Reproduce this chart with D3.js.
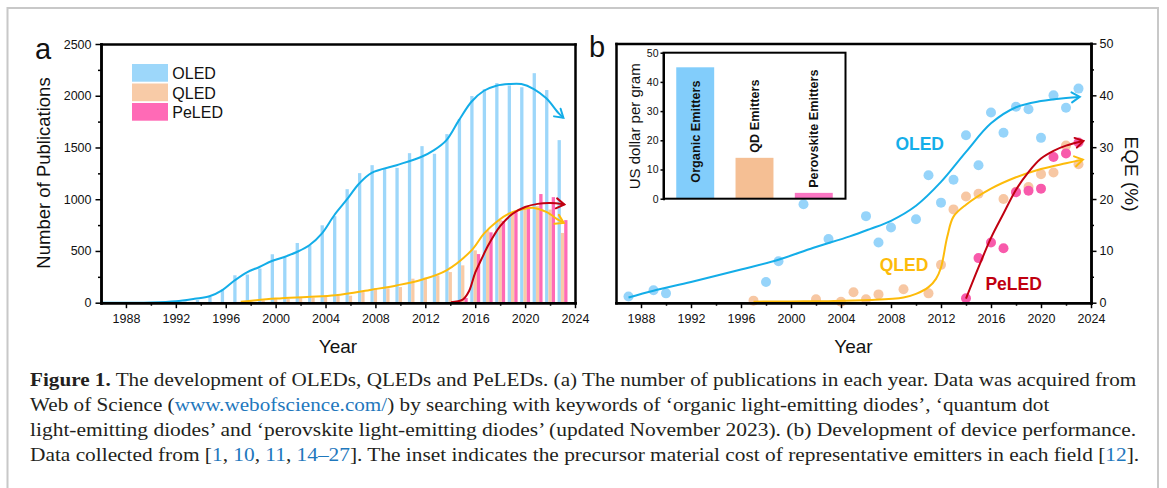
<!DOCTYPE html>
<html>
<head>
<meta charset="utf-8">
<script src="https://cdn.jsdelivr.net/npm/d3@7"></script>
<style>
  html, body { margin: 0; padding: 0; background: #fff; }
  svg { display: block; }
</style>
</head>
<body>
<svg id="fig" width="1167" height="488"></svg>
<script>
// ---------- Panel (a): publications per year ----------
const oledYears = d3.range(1986, 2024);
const oledPubs = [2, 2, 3, 3, 4, 5, 7, 12, 25, 55, 130, 265, 272, 330, 468, 440, 577, 555, 748, 836,
                  1097, 1252, 1329, 1297, 1303, 1445, 1513, 1439, 1629, 1774, 1997, 2063, 2122, 2100,
                  2082, 2218, 2055, 1571];
const qledYears = d3.range(1997, 2024);
const qledPubs = [8, 15, 22, 40, 35, 45, 50, 58, 66, 68, 103, 141, 139, 151, 232, 242, 264, 296, 361,
                  506, 700, 800, 877, 915, 935, 900, 674];
const peledYears = d3.range(2014, 2024);
const peledPubs = [8, 45, 470, 680, 790, 875, 920, 1050, 1020, 798];

// trend guides for the publication counts: [year, count]
const oledPubTrend = [[1986, 0], [1990, 3], [1992, 14], [1993.5, 38], [1994.7, 62], [1995.7, 119],
  [1996.7, 214], [1997.7, 294], [1998.7, 345], [1999.7, 403], [2000.7, 442], [2001.7, 490],
  [2002.7, 555], [2003.7, 668], [2004.7, 845], [2005.7, 995], [2006.7, 1152], [2007.7, 1255],
  [2009.7, 1329], [2011.7, 1410], [2012.7, 1474], [2013.7, 1571], [2014.7, 1764], [2015.7, 1942],
  [2016.7, 2048], [2017.7, 2097], [2018.7, 2113], [2019.7, 2113], [2020.7, 2065], [2021.7, 1975],
  [2022.7, 1829], [2023.07, 1787]];
const qledPubTrend = [[1997.2, 10], [2000, 40], [2002.5, 56], [2004.8, 71], [2007.7, 126], [2009.7, 167],
  [2011.7, 222], [2013.7, 313], [2015.7, 506], [2016.7, 668], [2017.7, 780], [2018.7, 861],
  [2019.7, 900], [2020.7, 916], [2021.7, 877], [2022.7, 797], [2023.1, 771]];
const peledPubTrend = [[2014.05, 5], [2015, 30], [2015.5, 110], [2016, 290], [2016.5, 420], [2017, 545],
  [2017.5, 650], [2018, 740], [2019, 860], [2020, 925], [2021, 955], [2022, 963], [2023.15, 950]];

const pubTicks = d3.range(0, 2501, 500);
const yearTicks = d3.range(1988, 2025, 4);

// ---------- Panel (b): EQE versus year ----------
const oledEqeYears = [1987, 1989, 1990, 1998, 1999, 2001, 2003, 2006, 2007, 2008, 2010, 2011, 2012, 2013,
                      2014, 2015, 2016, 2017, 2018, 2019, 2020, 2021, 2022, 2023];
const oledEqe = [1.2, 2.4, 1.8, 4.0, 8.0, 19.0, 12.3, 16.7, 11.6, 14.5, 16.1, 24.6, 19.3, 23.7,
                 32.3, 26.5, 36.7, 32.8, 37.8, 37.3, 31.8, 40.0, 37.6, 41.3];
const qledEqeYears = [1997, 2002, 2004, 2005, 2006, 2007, 2009, 2011, 2012, 2013, 2014, 2015, 2017, 2018,
                      2019, 2020, 2021, 2022, 2023];
const qledEqe = [0.4, 0.65, 0.2, 2.0, 0.65, 1.6, 2.6, 1.8, 7.3, 18.0, 20.5, 21.0, 20.0, 21.4,
                 22.3, 24.8, 25.1, 30.3, 26.7];
const peledEqeYears = [2014, 2015, 2016, 2017, 2018, 2019, 2020, 2021, 2022, 2023];
const peledEqe = [0.85, 8.6, 11.6, 10.5, 21.3, 21.6, 22.0, 28.1, 28.8, 30.9];

const oledEqeTrend = [[1987, 1.0], [1989, 2.3], [1992, 4.0], [1996, 6.4], [1999, 8.3], [2001.8, 10.6],
  [2004.7, 12.8], [2006.3, 14.2], [2008, 15.8], [2010, 18.7], [2012, 23.3], [2014, 29.1], [2016, 34.6],
  [2018, 37.7], [2020, 38.9], [2022, 39.5], [2023.1, 39.7]];
const qledEqeTrend = [[1997, 0.2], [2000, 0.25], [2003, 0.3], [2006.3, 0.5], [2009, 1.0], [2010, 1.7],
  [2011, 3.0], [2011.6, 4.6], [2012, 6.8], [2012.5, 12.7], [2013, 16.6], [2014, 18.9], [2016, 22.0],
  [2018, 24.2], [2020, 25.8], [2022, 26.9], [2023.35, 27.6]];
const peledEqeTrend = [[2014, 0.8], [2015, 6.8], [2016, 12.5], [2017, 17.2], [2018, 21.8], [2019, 25.2],
  [2020, 27.8], [2021, 29.3], [2022, 30.3], [2023.4, 31.2]];

const eqeTicks = d3.range(0, 51, 10);

// inset: precursor cost per gram
const emitterTypes = ['Organic Emitters', 'QD Emitters', 'Perovskite Emitters'];
const emitterCost = [45, 14, 2];
const costTicks = d3.range(0, 51, 10);

// ---------- drawing ----------
const SANS = '"Liberation Sans", Arial, Helvetica, sans-serif';
const SERIF = '"Liberation Serif", "Times New Roman", serif';
const COL = {
  oledBar: '#9dd7fa', qledBar: '#f8cba7', peledBar: '#ff6ab6',
  oledLine: '#13ade8', qledLine: '#fdbb0a', peledLine: '#c00010',
  oledDot: '#96d4fa', qledDot: '#f7c7a3', peledDot: '#f85aab',
  oledText: '#14aee9', qledText: '#fdbb0a', peledText: '#c0000f',
  inset: ['#82cdfb', '#f5bf94', '#fa76c3']
};
const FRAME_W = 2.5;

const svg = d3.select('#fig');

// figure border
svg.append('path')
  .attr('d', 'M7.5,496V8H1158V496')
  .attr('fill', 'none').attr('stroke', '#c8c8c8').attr('stroke-width', 2);

// arrowhead markers
const defs = svg.append('defs');
function arrowMarker(id, color) {
  defs.append('marker')
    .attr('id', id)
    .attr('viewBox', '-11 -7 13 14')
    .attr('refX', 0).attr('refY', 0)
    .attr('markerWidth', 13).attr('markerHeight', 14)
    .attr('markerUnits', 'userSpaceOnUse')
    .attr('orient', 'auto')
    .append('path')
    .attr('d', 'M-8,-5L0,0L-8,5')
    .attr('fill', 'none').attr('stroke', color).attr('stroke-width', 2)
    .attr('stroke-linejoin', 'miter').attr('stroke-linecap', 'round');
}
arrowMarker('arrOled', COL.oledLine);
arrowMarker('arrQled', COL.qledLine);
arrowMarker('arrPeled', COL.peledLine);

// axis styling: keep the domain line as the plot edge
function styleAxis(g, fontSize, lineW) {
  g.select('.domain').attr('stroke', '#000').attr('stroke-width', lineW).attr('stroke-linecap', 'square');
  g.selectAll('.tick line').attr('stroke', '#000').attr('stroke-width', 1.5);
  g.selectAll('.tick text').attr('fill', '#111').style('font-family', SANS).style('font-size', fontSize + 'px');
}

// top and side edges without ticks
function plainEdges(g, x, y, box, side) {
  const top = g.append('g').attr('transform', `translate(0,${box.top})`)
    .call(d3.axisTop(x).tickValues([]).tickSizeOuter(0));
  styleAxis(top, 12, FRAME_W);
  const s = g.append('g').attr('transform', `translate(${side === 'right' ? box.right : box.left},0)`)
    .call((side === 'right' ? d3.axisRight(y) : d3.axisLeft(y)).tickValues([]).tickSizeOuter(0));
  styleAxis(s, 12, FRAME_W);
}

function drawTrend(g, pts, x, y, color, markerId) {
  const line = d3.line().x(d => x(d[0])).y(d => y(d[1])).curve(d3.curveCatmullRom.alpha(0.5));
  g.append('path').datum(pts)
    .attr('d', line)
    .attr('fill', 'none').attr('stroke', color).attr('stroke-width', 2)
    .attr('marker-end', `url(#${markerId})`);
}

// ===== Panel a =====
const boxA = { left: 101, right: 575, top: 44, bottom: 302.7 };
const xa = d3.scaleLinear().domain([1986, 2024]).range([boxA.left, boxA.right]);
const ya = d3.scaleLinear().domain([0, 2500]).range([boxA.bottom, boxA.top]);
const yearPx = xa(1987) - xa(1986);
const barW = 0.265 * yearPx;
const ga = svg.append('g');

function drawBars(years, vals, offset, color) {
  ga.append('g').selectAll('rect').data(years).join('rect')
    .attr('x', (d) => xa(d) + offset * yearPx - barW / 2)
    .attr('width', barW)
    .attr('y', (d, i) => ya(vals[i]))
    .attr('height', (d, i) => ya(0) - ya(vals[i]))
    .attr('fill', color);
}
drawBars(oledYears, oledPubs, -0.265, COL.oledBar);
drawBars(qledYears, qledPubs, 0, COL.qledBar);
drawBars(peledYears, peledPubs, 0.265, COL.peledBar);

drawTrend(ga, oledPubTrend, xa, ya, COL.oledLine, 'arrOled');
drawTrend(ga, qledPubTrend, xa, ya, COL.qledLine, 'arrQled');
drawTrend(ga, peledPubTrend, xa, ya, COL.peledLine, 'arrPeled');

// axes
plainEdges(ga, xa, ya, boxA, 'right');
const axA = ga.append('g').attr('transform', `translate(0,${boxA.bottom})`)
  .call(d3.axisBottom(xa).tickValues(yearTicks).tickFormat(d3.format('d')).tickSize(5.5).tickPadding(5.5).tickSizeOuter(0));
styleAxis(axA, 12.5, FRAME_W);
const axAm = ga.append('g').attr('transform', `translate(0,${boxA.bottom})`)
  .call(d3.axisBottom(xa).tickValues(d3.range(1990, 2024, 4)).tickFormat('').tickSize(3).tickSizeOuter(0));
styleAxis(axAm, 12.5, FRAME_W);
const ayA = ga.append('g').attr('transform', `translate(${boxA.left},0)`)
  .call(d3.axisLeft(ya).tickValues(pubTicks).tickFormat(d3.format('d')).tickSize(5.5).tickPadding(4).tickSizeOuter(0));
styleAxis(ayA, 12.5, FRAME_W);
const ayAm = ga.append('g').attr('transform', `translate(${boxA.left},0)`)
  .call(d3.axisLeft(ya).tickValues(d3.range(250, 2500, 500)).tickFormat('').tickSize(3).tickSizeOuter(0));
styleAxis(ayAm, 12.5, FRAME_W);

// titles
ga.append('text').attr('transform', `translate(50,173) rotate(-90)`)
  .attr('text-anchor', 'middle').style('font-family', SANS).style('font-size', '18.5px').attr('fill', '#111')
  .text('Number of Publications');
ga.append('text').attr('x', (boxA.left + boxA.right) / 2).attr('y', 353)
  .attr('text-anchor', 'middle').style('font-family', SANS).style('font-size', '19px').attr('fill', '#111')
  .text('Year');
ga.append('text').attr('x', 35).attr('y', 58.5)
  .style('font-family', SANS).style('font-size', '29px').attr('fill', '#111').text('a');

// legend
const legend = [['OLED', COL.oledBar], ['QLED', COL.qledBar], ['PeLED', COL.peledBar]];
const lg = ga.append('g');
legend.forEach((d, i) => {
  const top = 64 + i * 19.5;
  lg.append('rect').attr('x', 132).attr('y', top).attr('width', 36).attr('height', 17.7).attr('fill', d[1]);
  lg.append('text').attr('x', 172.3).attr('y', top + 15)
    .style('font-family', SANS).style('font-size', '16px').attr('fill', '#111').text(d[0]);
});

// ===== Panel b =====
const boxB = { left: 616, right: 1091, top: 43.5, bottom: 302.7 };
const xb = d3.scaleLinear().domain([1986, 2024]).range([boxB.left, boxB.right]);
const yb = d3.scaleLinear().domain([0, 50]).range([boxB.bottom, boxB.top]);
const gb = svg.append('g');

function drawDots(years, vals, color) {
  gb.append('g').selectAll('circle').data(years).join('circle')
    .attr('cx', d => xb(d))
    .attr('cy', (d, i) => yb(vals[i]))
    .attr('r', 5)
    .attr('fill', color);
}
drawDots(oledEqeYears, oledEqe, COL.oledDot);
drawDots(qledEqeYears, qledEqe, COL.qledDot);
drawDots(peledEqeYears, peledEqe, COL.peledDot);

drawTrend(gb, oledEqeTrend, xb, yb, COL.oledLine, 'arrOled');
drawTrend(gb, qledEqeTrend, xb, yb, COL.qledLine, 'arrQled');
drawTrend(gb, peledEqeTrend, xb, yb, COL.peledLine, 'arrPeled');

// series names inside the plot
[['OLED', 2008.35, 29.5, COL.oledText], ['QLED', 2007.1, 6.1, COL.qledText], ['PeLED', 2015.55, 2.45, COL.peledText]]
  .forEach(d => {
    gb.append('text').attr('x', xb(d[1])).attr('y', yb(d[2]))
      .style('font-family', SANS).style('font-size', '17.5px').style('font-weight', 'bold')
      .attr('fill', d[3]).text(d[0]);
  });

plainEdges(gb, xb, yb, boxB, 'left');
const axB = gb.append('g').attr('transform', `translate(0,${boxB.bottom})`)
  .call(d3.axisBottom(xb).tickValues(yearTicks).tickFormat(d3.format('d')).tickSize(5.5).tickPadding(5.5).tickSizeOuter(0));
styleAxis(axB, 12.5, FRAME_W);
const axBm = gb.append('g').attr('transform', `translate(0,${boxB.bottom})`)
  .call(d3.axisBottom(xb).tickValues(d3.range(1990, 2024, 4)).tickFormat('').tickSize(3).tickSizeOuter(0));
styleAxis(axBm, 12.5, FRAME_W);
const ayB = gb.append('g').attr('transform', `translate(${boxB.right},0)`)
  .call(d3.axisRight(yb).tickValues(eqeTicks).tickSize(5.5).tickPadding(3).tickSizeOuter(0));
styleAxis(ayB, 12.5, FRAME_W);
const ayBm = gb.append('g').attr('transform', `translate(${boxB.right},0)`)
  .call(d3.axisRight(yb).tickValues(d3.range(5, 50, 10)).tickFormat('').tickSize(3).tickSizeOuter(0));
styleAxis(ayBm, 12.5, FRAME_W);

gb.append('text').attr('transform', `translate(1124.5,174) rotate(90)`)
  .attr('text-anchor', 'middle').style('font-family', SANS).style('font-size', '19px').attr('fill', '#111')
  .text('EQE (%)');
gb.append('text').attr('x', (boxB.left + boxB.right) / 2).attr('y', 353)
  .attr('text-anchor', 'middle').style('font-family', SANS).style('font-size', '19px').attr('fill', '#111')
  .text('Year');
gb.append('text').attr('x', 589).attr('y', 56.7)
  .style('font-family', SANS).style('font-size', '29px').attr('fill', '#111').text('b');

// ----- inset -----
const boxI = { left: 663.5, right: 845.5, top: 52.7, bottom: 198.7 };
const xi = d3.scaleBand().domain(emitterTypes).range([boxI.left, boxI.right]).paddingInner(0.36).paddingOuter(0.215);
const yi = d3.scaleLinear().domain([0, 50]).range([boxI.bottom, boxI.top]);
const gi = gb.append('g');
gi.append('rect')
  .attr('x', boxI.left).attr('y', boxI.top).attr('width', boxI.right - boxI.left).attr('height', boxI.bottom - boxI.top)
  .attr('fill', '#fff');
gi.selectAll('rect.cost').data(emitterTypes).join('rect').attr('class', 'cost')
  .attr('x', d => xi(d)).attr('width', xi.bandwidth())
  .attr('y', (d, i) => yi(emitterCost[i]))
  .attr('height', (d, i) => yi(0) - yi(emitterCost[i]))
  .attr('fill', (d, i) => COL.inset[i]);
gi.selectAll('text.cost').data(emitterTypes).join('text').attr('class', 'cost')
  .attr('transform', (d, i) => {
    const v = emitterCost[i];
    const yStart = v > 30 ? yi(0) - 16 : yi(v) - 5;
    return `translate(${xi(d) + xi.bandwidth() / 2 + 4.6},${yStart}) rotate(-90)`;
  })
  .style('font-family', SANS).style('font-size', '12.7px').style('font-weight', 'bold').attr('fill', '#111')
  .text(d => d);
gi.append('rect')
  .attr('x', boxI.left).attr('y', boxI.top).attr('width', boxI.right - boxI.left).attr('height', boxI.bottom - boxI.top)
  .attr('fill', 'none').attr('stroke', '#000').attr('stroke-width', 2);
const ayI = gi.append('g').attr('transform', `translate(${boxI.left},0)`)
  .call(d3.axisLeft(yi).tickValues(costTicks).tickSize(3).tickPadding(2).tickSizeOuter(0));
styleAxis(ayI, 10.5, 2);
gi.append('text').attr('transform', `translate(639.5,126.3) rotate(-90)`)
  .attr('text-anchor', 'middle').style('font-family', SANS).style('font-size', '15px').attr('fill', '#111')
  .text('US dollar per gram');

// ===== caption =====
const captionLines = [
  [{ t: 'Figure 1.', b: true }, { t: ' The development of OLEDs, QLEDs and PeLEDs. (a) The number of publications in each year. Data was acquired from' }],
  [{ t: 'Web of Science (' }, { t: 'www.webofscience.com/', link: true }, { t: ') by searching with keywords of \u2018organic light-emitting diodes\u2019, \u2018quantum dot' }],
  [{ t: 'light-emitting diodes\u2019 and \u2018perovskite light-emitting diodes\u2019 (updated November 2023). (b) Development of device performance.' }],
  [{ t: 'Data collected from [' }, { t: '1', link: true }, { t: ', ' }, { t: '10', link: true }, { t: ', ' }, { t: '11', link: true },
   { t: ', ' }, { t: '14\u201327', link: true }, { t: ']. The inset indicates the precursor material cost of representative emitters in each field [' },
   { t: '12', link: true }, { t: '].' }]
];
const capLeft = 30;
const capRight = [1137, null, 1137, 1140];
const gc = svg.append('g');
let lastScale = 1;
captionLines.forEach((parts, li) => {
  const txt = gc.append('text')
    .attr('x', 0).attr('y', 0)
    .attr('xml:space', 'preserve')
    .style('font-family', SERIF).style('font-size', '19.5px').attr('fill', '#231f20');
  parts.forEach(p => {
    txt.append('tspan')
      .style('font-weight', p.b ? 'bold' : null)
      .attr('fill', p.link ? '#1f78bd' : null)
      .text(p.t);
  });
  // justify: stretch each full line horizontally to the text block width
  const natural = txt.node().getComputedTextLength();
  let sx = lastScale;
  if (capRight[li] !== null) sx = (capRight[li] - capLeft) / natural;
  txt.attr('transform', `translate(${capLeft},${386 + li * 25}) scale(${sx},1)`);
  lastScale = sx;
});
</script>
</body>
</html>
